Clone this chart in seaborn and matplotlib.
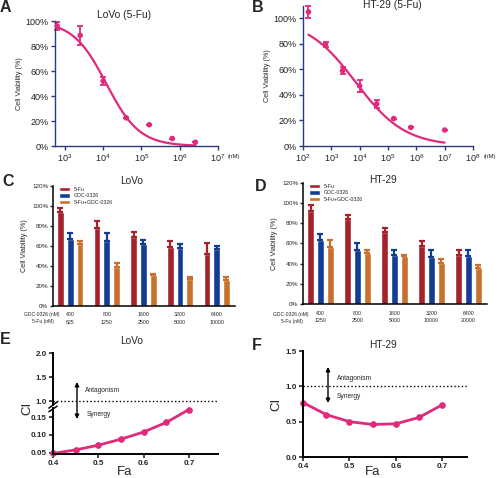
import numpy as np
import pandas as pd
import matplotlib
matplotlib.use('Agg')
import matplotlib.pyplot as plt
from matplotlib.ticker import FuncFormatter, FormatStrFormatter
import seaborn as sns

sns.set_style('ticks')
plt.rcParams['font.family'] = ['Liberation Sans', 'DejaVu Sans']
plt.rcParams['mathtext.fontset'] = 'custom'
plt.rcParams['mathtext.rm'] = 'Liberation Sans'

# ---- data ----
# A / B: dose-response of 5-Fu (nM, % viability, sd)
lovo_conc = [625, 2500, 10000, 40000, 160000, 640000, 2560000]
lovo_viab = [96, 88.5, 52, 22.5, 17, 6, 3]
lovo_sd = [3, 7.5, 3, 0, 0, 0, 0]
lovo_fit = {'top': 100, 'bottom': 0, 'ic50': 12000, 'hill': 1.0}

ht29_conc = [156, 625, 2500, 10000, 40000, 160000, 640000, 10000000]
ht29_viab = [105, 79.5, 59, 47, 33, 21.5, 14.5, 12.5]
ht29_sd = [5, 2.2, 2.5, 4.6, 2.9, 0, 0, 0]
ht29_fit = {'top': 100, 'bottom': 0, 'ic50': 7200, 'hill': 0.5}

# C / D: combination bars
series = ['5-Fu', 'GDC-0326', '5-Fu+GDC-0326']
gdc_doses = ['400', '800', '1600', '3200', '6400']
fu_doses_lovo = ['625', '1250', '2500', '5000', '10000']
fu_doses_ht29 = ['1250', '2500', '5000', '10000', '20000']

lovo_fu = [94, 78.3, 69.3, 58.7, 52.3]
lovo_gdc = [66.7, 65.3, 61.7, 57.7, 56.7]
lovo_combo = [62, 39.3, 30.7, 26.7, 26]
lovo_fu_err = [3.7, 7, 5, 6, 10.4]
lovo_gdc_err = [6, 8, 4.3, 4.3, 3.3]
lovo_combo_err = [3.3, 3.4, 1.3, 2.6, 2.7]

ht29_fu = [92.3, 84.4, 71.5, 57.4, 48.5]
ht29_gdc = [63.3, 53.4, 48.5, 46.8, 47.8]
ht29_combo = [56.7, 50.1, 47.5, 40.2, 35.3]
ht29_fu_err = [6.3, 4.3, 4, 5.2, 4.9]
ht29_gdc_err = [5.9, 6.6, 4.9, 7.2, 5.6]
ht29_combo_err = [6.6, 3.3, 1, 4, 3.3]

# E / F: combination index
fa = [0.4, 0.45, 0.5, 0.55, 0.6, 0.65, 0.7]
ci_lovo = [0.048, 0.058, 0.071, 0.088, 0.108, 0.135, 0.171]
ci_ht29 = [0.77, 0.60, 0.50, 0.46, 0.47, 0.56, 0.74]

pink = '#e02a7c'
navy = '#2b3a7e'
bar_colors = {'5-Fu': '#a3222b', 'GDC-0326': '#133d95', '5-Fu+GDC-0326': '#c8702d'}

W, H = 500, 478
fig = plt.figure(figsize=(W / 100, H / 100), dpi=100)


def px(l, t, r, b):
    return [l / W, 1 - b / H, (r - l) / W, (b - t) / H]


def ftext(x, y, s, **kw):
    fig.text(x / W, 1 - y / H, s, **kw)


pct = FuncFormatter(lambda v, p: f'{v:.0f}%')


# ---- A / B ----
def dose_panel(ax, conc, viab, sd, fit, xlim, ylim, xticks):
    ax.set_xscale('log')
    grid = np.logspace(np.log10(conc[0]), np.log10(conc[-1]), 200)
    curve = fit['bottom'] + (fit['top'] - fit['bottom']) / (1 + (grid / fit['ic50']) ** fit['hill'])
    sns.lineplot(x=grid, y=curve, color=pink, lw=1.6, ax=ax, sort=False)
    ax.errorbar(conc, viab, yerr=sd, fmt='none', ecolor=pink, elinewidth=1.3,
                capsize=2.2, capthick=1.3, clip_on=False)
    sns.scatterplot(x=conc, y=viab, color=pink, s=16, edgecolor='none', ax=ax,
                    zorder=3, clip_on=False)
    ax.set_xlim(*xlim)
    ax.set_ylim(*ylim)
    ax.set_xticks(xticks)
    ax.minorticks_off()
    ax.set_yticks(range(0, 101, 20))
    ax.yaxis.set_major_formatter(pct)
    sns.despine(ax=ax)
    for s in ['left', 'bottom']:
        ax.spines[s].set_color(navy)
        ax.spines[s].set_linewidth(1.0)
    ax.tick_params(colors=navy, labelcolor='#222222', labelsize=6.5, length=3, width=1, pad=1.5)
    ax.set_ylabel('Cell Viability (%)', fontsize=5.2, labelpad=2)


axA = fig.add_axes(px(55, 21, 218, 146))
dose_panel(axA, lovo_conc, lovo_viab, lovo_sd, lovo_fit, (10 ** 2.74, 1e7), (0, 100),
           [1e3, 1e4, 1e5, 1e6, 1e7])
axB = fig.add_axes(px(303, 5.5, 473, 146))
dose_panel(axB, ht29_conc, ht29_viab, ht29_sd, ht29_fit, (1e2, 1e8), (0, 110),
           [1e2, 1e3, 1e4, 1e5, 1e6, 1e7, 1e8])
ftext(228, 156, '(nM)', fontsize=4.3, ha='left', va='center')
ftext(484, 156, '(nM)', fontsize=4.3, ha='left', va='center')
ftext(124, 15, 'LoVo (5-Fu)', fontsize=7.4, ha='center', va='center')
ftext(392, 5, 'HT-29 (5-Fu)', fontsize=7.4, ha='center', va='center')


# ---- C / D ----
def bar_panel(ax, fu, gdc, combo, errs, fu_labels, lab_x):
    df = pd.DataFrame({'dose': gdc_doses * 3,
                       'series': np.repeat(series, len(gdc_doses)),
                       'viab': fu + gdc + combo})
    sns.barplot(data=df, x='dose', y='viab', hue='series', palette=bar_colors,
                gap=0.3, width=0.8, errorbar=None, saturation=1, ax=ax)
    for j, (vals, err) in enumerate(zip([fu, gdc, combo], errs)):
        xs = np.arange(len(vals)) + (j - 1) * 0.8 / 3
        ax.errorbar(xs, vals, yerr=[np.zeros(len(vals)), err], fmt='none',
                    ecolor=bar_colors[series[j]], elinewidth=1.6, capsize=2.2, capthick=1.6)
    ax.set_xlim(-0.47, 4.5)
    ax.set_ylim(0, 120)
    ax.set_yticks(range(0, 121, 20))
    ax.yaxis.set_major_formatter(pct)
    sns.despine(ax=ax)
    for s in ['left', 'bottom']:
        ax.spines[s].set_linewidth(1.1)
        ax.spines[s].set_color('black')
    ax.tick_params(axis='y', labelsize=4.5, length=2.5, width=1, pad=1)
    ax.tick_params(axis='x', length=0, labelbottom=False)
    ax.set_xlabel('')
    ax.set_ylabel('Cell Viability (%)', fontsize=5.2, labelpad=3)
    ax.legend(loc='upper left', bbox_to_anchor=(0.02, 1.01), frameon=False, fontsize=3.8,
              handlelength=2.2, handleheight=0.9, labelspacing=0.25, borderaxespad=0,
              handletextpad=0.6)
    tr = ax.get_xaxis_transform()
    for i, (g, f) in enumerate(zip(gdc_doses, fu_labels)):
        ax.text(i, -0.075, g, transform=tr, fontsize=3.8, ha='center', va='center')
        ax.text(i, -0.135, f, transform=tr, fontsize=3.8, ha='center', va='center')
    ftext(lab_x, 314.5, 'GDC-0326 (nM)', fontsize=3.6, ha='center', va='center')
    ftext(lab_x + 1, 322, '5-Fu (nM)', fontsize=3.6, ha='center', va='center')


axC = fig.add_axes(px(53, 186, 235, 306))
bar_panel(axC, lovo_fu, lovo_gdc, lovo_combo, [lovo_fu_err, lovo_gdc_err, lovo_combo_err],
          fu_doses_lovo, 42)
axD = fig.add_axes(px(303, 183, 487, 304))
bar_panel(axD, ht29_fu, ht29_gdc, ht29_combo, [ht29_fu_err, ht29_gdc_err, ht29_combo_err],
          fu_doses_ht29, 291)
ftext(132, 181, 'LoVo', fontsize=7.3, ha='center', va='center')
ftext(383, 180, 'HT-29', fontsize=7.3, ha='center', va='center')


# ---- E / F ----
def ci_style(ax, xlim):
    ax.set_xlim(*xlim)
    sns.despine(ax=ax)
    for s in ['left', 'bottom']:
        ax.spines[s].set_linewidth(1.4)
        ax.spines[s].set_color('black')
    ax.tick_params(labelsize=5.8, length=3, width=1.2, pad=1.5)
    for lab in ax.get_xticklabels() + ax.get_yticklabels():
        lab.set_fontweight('bold')


def ci_line(ax, ci):
    sns.lineplot(x=fa, y=ci, color=pink, lw=2, marker='o', markersize=4,
                 markeredgecolor=pink, ax=ax, clip_on=False)


e_xlim = (0.4, 0.764)
axEt = fig.add_axes(px(53, 353, 218, 405))
axEb = fig.add_axes(px(53, 408, 218, 454))
axEt.set_ylim(0.917, 2.0)
axEt.set_yticks([1.0, 1.5, 2.0])
axEt.yaxis.set_major_formatter(FormatStrFormatter('%.1f'))
axEt.set_xticks([])
axEt.axhline(1.0, ls=':', color='black', lw=1)
ci_style(axEt, e_xlim)
axEt.spines['bottom'].set_visible(False)

ci_line(axEb, ci_lovo)
axEb.set_ylim(0.0464, 0.1753)
axEb.set_yticks([0.05, 0.10, 0.15])
axEb.yaxis.set_major_formatter(FormatStrFormatter('%.2f'))
axEb.set_xticks([0.4, 0.5, 0.6, 0.7])
axEb.xaxis.set_major_formatter(FormatStrFormatter('%.1f'))
ci_style(axEb, e_xlim)

# break marks on the left spine
axEt.plot([-0.025, 0.025], [-0.06, 0.06], transform=axEt.transAxes, color='black',
          lw=1.1, clip_on=False)
axEb.plot([-0.025, 0.025], [0.92, 1.04], transform=axEb.transAxes, color='black',
          lw=1.1, clip_on=False)

axF = fig.add_axes(px(303, 351, 467, 457))
axF.axhline(1.0, ls=':', color='black', lw=1)
ci_line(axF, ci_ht29)
axF.set_ylim(0, 1.5)
axF.set_yticks([0.0, 0.5, 1.0, 1.5])
axF.yaxis.set_major_formatter(FormatStrFormatter('%.1f'))
axF.set_xticks([0.4, 0.5, 0.6, 0.7])
axF.xaxis.set_major_formatter(FormatStrFormatter('%.1f'))
ci_style(axF, (0.4, 0.753))

for ax in [axEt, axEb, axF]:
    ax.set_xlabel('')
    ax.set_ylabel('')

# arrows and annotations
arrow = dict(arrowstyle='<|-|>', color='black', lw=1, mutation_scale=6, shrinkA=0, shrinkB=0)
fig.add_artist(matplotlib.patches.FancyArrowPatch((77 / W, 1 - 382 / H), (77 / W, 1 - 419 / H),
                                                  transform=fig.transFigure, **arrow))
fig.add_artist(matplotlib.patches.FancyArrowPatch((328 / W, 1 - 367 / H), (328 / W, 1 - 403 / H),
                                                  transform=fig.transFigure, **arrow))
ftext(85, 391, 'Antagonism', fontsize=4.8, ha='left', va='center')
ftext(87, 414, 'Synergy', fontsize=4.8, ha='left', va='center')
ftext(337, 379, 'Antagonism', fontsize=4.8, ha='left', va='center')
ftext(337, 396, 'Synergy', fontsize=4.8, ha='left', va='center')

ftext(132, 341, 'LoVo', fontsize=7.3, ha='center', va='center')
ftext(383, 345, 'HT-29', fontsize=7.3, ha='center', va='center')
ftext(27, 408, 'CI', fontsize=9.5, ha='center', va='center', rotation=90)
ftext(276, 404, 'CI', fontsize=9.5, ha='center', va='center', rotation=90)
ftext(125, 472, 'Fa', fontsize=9.5, ha='center', va='center')
ftext(373, 472, 'Fa', fontsize=9.5, ha='center', va='center')

# panel letters
for letter, x, y in [('A', 0, 8), ('B', 252, 8), ('C', 2, 182), ('D', 255, 186),
                     ('E', 0, 340), ('F', 252, 345)]:
    ftext(x, y, letter, fontsize=11.5, fontweight='bold', ha='left', va='center')

fig.savefig('out.png', dpi=100)
